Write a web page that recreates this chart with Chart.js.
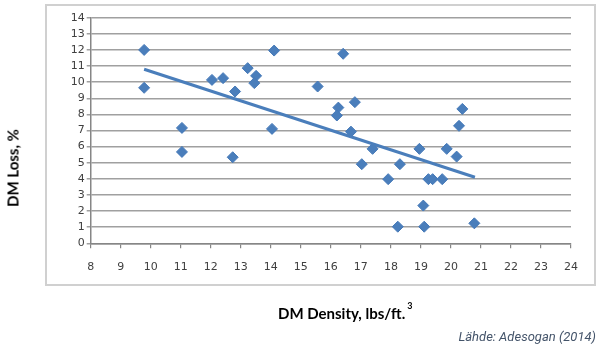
<!DOCTYPE html>
<html>
<head>
<meta charset="utf-8">
<script src="https://cdn.jsdelivr.net/npm/chart.js@4.4.1/dist/chart.umd.min.js"></script>
<style>
  html, body { margin: 0; padding: 0; background: #ffffff; }
  #wrap { position: relative; width: 600px; height: 346px; overflow: hidden; background: #ffffff; }
  #frame { position: absolute; left: 45px; top: 4px; width: 551px; height: 282px; box-sizing: border-box; border: 2px solid #d0d0d0; }
  #chart { position: absolute; left: 0; top: 0; }
  .ytitle { position: absolute; left: 13px; top: 168px; transform: translate(-50%, -50%) rotate(-90deg);
            font: bold 15px Lato, "Open Sans", sans-serif; color: #000; white-space: nowrap; line-height: 1; }
  .xtitle { position: absolute; left: 278px; top: 306px; font: bold 15px Lato, "Open Sans", sans-serif;
            color: #000; white-space: nowrap; line-height: 1; }
  .xtitle .sup { position: relative; top: -10px; font-size: 9px; margin-left: 2px; }
  .source { position: absolute; right: 4px; top: 330px; font: italic 13px Roboto, sans-serif;
            color: #44546a; white-space: nowrap; line-height: 1; }
</style>
</head>
<body>
<div id="wrap">
  <div id="frame"></div>
  <canvas id="chart" width="600" height="346"></canvas>
  <div class="ytitle">DM Loss, %</div>
  <div class="xtitle">DM Density, lbs/ft.<span class="sup">3</span></div>
  <div class="source">Lähde: Adesogan (2014)</div>
</div>
<script>
// Data
const densityValues = [9.78, 9.78, 11.04, 11.04, 12.04, 12.41, 12.81, 12.73, 13.23, 13.51, 13.45, 14.11, 14.04,
                       15.56, 16.41, 16.25, 16.2, 16.8, 16.67, 17.39, 17.03, 17.91, 18.3,
                       18.95, 19.25, 19.39, 19.71, 19.86, 20.19, 20.27, 20.38, 19.08, 18.23, 19.11, 20.78];
const lossValues    = [12.0, 9.65, 7.16, 5.67, 10.14, 10.25, 9.42, 5.34, 10.87, 10.39, 9.94, 11.96, 7.1,
                       9.73, 11.76, 8.42, 7.93, 8.76, 6.93, 5.86, 4.91, 3.98, 4.91,
                       5.86, 3.98, 3.98, 3.98, 5.86, 5.38, 7.29, 8.34, 2.34, 1.03, 1.03, 1.24];
const trendX = [9.78, 20.8];
const trendY = [10.8, 4.1];
const xTickRange = [8, 24];
const yTickRange = [0, 14];

const pointsData = densityValues.map((x, i) => ({ x: x, y: lossValues[i] }));
const trendData = trendX.map((x, i) => ({ x: x, y: trendY[i] }));

const tickFont = { family: '"DejaVu Sans", sans-serif', size: 11 };

new Chart(document.getElementById('chart'), {
  type: 'scatter',
  data: {
    datasets: [
      {
        type: 'line',
        label: 'Trend',
        data: trendData,
        borderColor: '#4a7ebb',
        borderWidth: 3,
        pointRadius: 0,
        fill: false,
        order: 0
      },
      {
        label: 'DM Loss',
        data: pointsData,
        pointStyle: 'rectRot',
        pointRadius: 5.5,
        pointHoverRadius: 5.5,
        backgroundColor: '#4a7ebb',
        borderColor: '#4579b8',
        borderWidth: 1,
        order: 1
      }
    ]
  },
  options: {
    responsive: false,
    animation: false,
    events: [],
    layout: { padding: { left: 0, right: 29, top: 17.7, bottom: 62.7 } },
    plugins: { legend: { display: false }, tooltip: { enabled: false }, title: { display: false } },
    scales: {
      x: {
        type: 'linear',
        min: xTickRange[0],
        max: xTickRange[1],
        afterFit: (s) => { s.height = 40; },
        ticks: { stepSize: 1, autoSkip: false, color: '#404040', font: tickFont, padding: 12, maxRotation: 0 },
        grid: { drawOnChartArea: false, drawTicks: true, tickLength: 5, color: '#868686', lineWidth: 1.2 },
        border: { color: '#868686', width: 1.5 }
      },
      y: {
        type: 'linear',
        min: yTickRange[0],
        max: yTickRange[1],
        afterFit: (s) => { s.width = 90.7; },
        ticks: { stepSize: 1, autoSkip: false, color: '#404040', font: tickFont, padding: 2 },
        grid: { drawOnChartArea: true, drawTicks: true, tickLength: 4, color: '#a0a0a0', lineWidth: 1.5 },
        border: { color: '#868686', width: 1.5 }
      }
    }
  }
});
</script>
</body>
</html>
